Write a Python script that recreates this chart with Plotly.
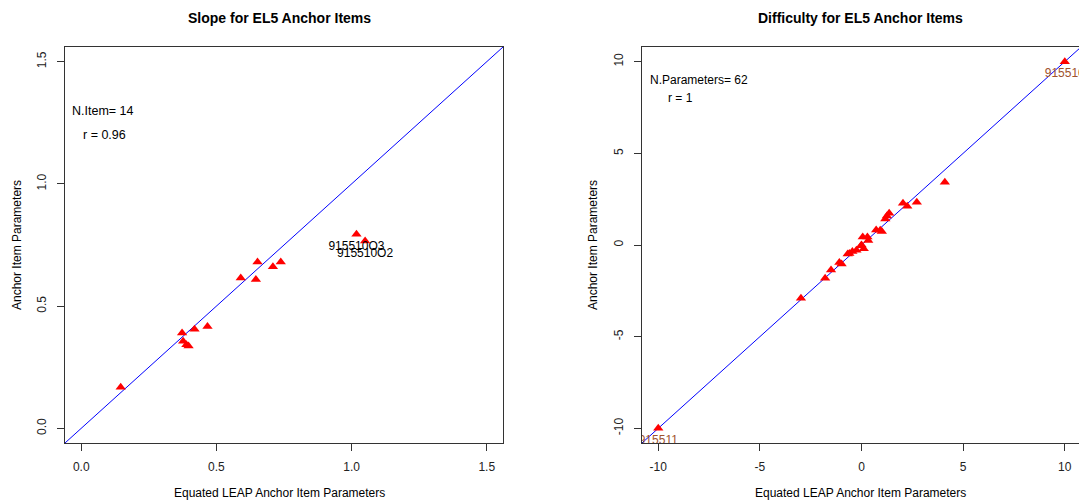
import plotly.graph_objects as go

# ---- data ----
slope_equated = [0.146, 0.373, 0.377, 0.389, 0.397, 0.419, 0.467, 0.590, 0.646, 0.652, 0.709, 0.738, 1.018, 1.050]
slope_anchor = [0.168, 0.390, 0.356, 0.342, 0.337, 0.405, 0.417, 0.615, 0.609, 0.680, 0.661, 0.680, 0.794, 0.766]
slope_labels = ["", "", "", "", "", "", "", "", "", "", "", "", "915510O3", "915510O2"]

diff_equated = [-10.0, -2.98, -1.79, -1.50, -1.09, -0.98, -0.68, -0.60, -0.45, -0.25, 0.0, -0.02, 0.11,
                0.06, 0.29, 0.33, 0.72, 0.92, 1.00, 1.17, 1.25, 1.36, 2.04, 2.25, 2.72, 4.10, 10.0]
diff_anchor = [-10.0, -2.90, -1.82, -1.37, -0.95, -1.04, -0.49, -0.46, -0.35, -0.29, 0.0, -0.04, -0.20,
               0.43, 0.43, 0.24, 0.82, 0.80, 0.73, 1.42, 1.58, 1.73, 2.28, 2.12, 2.33, 3.42, 10.0]
diff_labels = ["915511"] + [""] * 25 + ["915510"]

slope_ticks = [0.0, 0.5, 1.0, 1.5]
slope_ticktext = ["0.0", "0.5", "1.0", "1.5"]
diff_ticks = [-10, -5, 0, 5, 10]
diff_ticktext = ["-10", "-5", "0", "5", "10"]

slope_range = [-0.06, 1.56]
diff_xrange = [-10.8, 10.7]
diff_yrange = [-10.8, 10.8]

FONT = "Liberation Sans, Arial, sans-serif"
W, H = 1079, 502
L1, R1 = 65, 503
L2, R2 = 642, 1079
TOP, BOT = 47, 443

fig = go.Figure()

# left panel
fig.add_trace(go.Scatter(x=[-1, 3], y=[-1, 3], mode="lines", line=dict(color="#0000FF", width=1),
                         xaxis="x", yaxis="y", hoverinfo="skip"))
fig.add_trace(go.Scatter(x=slope_equated, y=slope_anchor, mode="markers+text", text=slope_labels,
                         textposition="bottom center", textfont=dict(family=FONT, size=12, color="#000000"),
                         marker=dict(symbol="triangle-up", color="#FF0000", size=9),
                         xaxis="x", yaxis="y", cliponaxis=True))
# right panel
fig.add_trace(go.Scatter(x=[-20, 20], y=[-20, 20], mode="lines", line=dict(color="#0000FF", width=1),
                         xaxis="x2", yaxis="y2", hoverinfo="skip"))
fig.add_trace(go.Scatter(x=diff_equated, y=diff_anchor, mode="markers+text", text=diff_labels,
                         textposition="bottom center", textfont=dict(family=FONT, size=12, color="#A0522D"),
                         marker=dict(symbol="triangle-up", color="#FF0000", size=9),
                         xaxis="x2", yaxis="y2", cliponaxis=True))

ydom = [1 - BOT / H, 1 - TOP / H]
axis_common = dict(showgrid=False, zeroline=False, ticks="outside", ticklen=7, tickcolor="#333333",
                   tickfont=dict(family=FONT, size=12, color="#222222"), showline=True,
                   linecolor="#333333", linewidth=1)

fig.update_layout(
    width=W, height=H, showlegend=False,
    paper_bgcolor="white", plot_bgcolor="white",
    margin=dict(l=0, r=0, t=0, b=0),
    xaxis=dict(domain=[L1 / W, R1 / W], range=slope_range, tickvals=slope_ticks, ticktext=slope_ticktext,
               mirror=True, anchor="y", ticklabelstandoff=6, **axis_common),
    yaxis=dict(domain=ydom, range=slope_range, tickvals=slope_ticks, ticktext=slope_ticktext,
               mirror=True, anchor="x", tickangle=-90, ticklabelstandoff=6, **axis_common),
    xaxis2=dict(domain=[L2 / W, R2 / W], range=diff_xrange, tickvals=diff_ticks, ticktext=diff_ticktext,
                mirror=True, anchor="y2", ticklabelstandoff=6, **axis_common),
    yaxis2=dict(domain=ydom, range=diff_yrange, tickvals=diff_ticks, ticktext=diff_ticktext,
                mirror=False, anchor="x2", tickangle=-90, ticklabelstandoff=6, **axis_common),
)

ann = []
def pann(x, y, text, size=12, bold=False, angle=0):
    ann.append(dict(x=x / W, y=1 - y / H, xref="paper", yref="paper", text=("<b>%s</b>" % text) if bold else text,
                    showarrow=False, xanchor="center", yanchor="middle", textangle=angle,
                    font=dict(family=FONT, size=size, color="#000000")))

pann(280, 18, "Slope for EL5 Anchor Items", size=14, bold=True)
pann(860, 18, "Difficulty for EL5 Anchor Items", size=14, bold=True)
pann(280, 493, "Equated LEAP Anchor Item Parameters", size=12)
pann(860, 493, "Equated LEAP Anchor Item Parameters", size=12)
pann(17, (TOP + BOT) / 2, "Anchor Item Parameters", size=12, angle=-90)
pann(593, (TOP + BOT) / 2, "Anchor Item Parameters", size=12, angle=-90)

# in-plot statistics text (data coordinates)
ann.append(dict(x=0.08, y=1.3, xref="x", yref="y", text="N.Item= 14", showarrow=False,
                font=dict(family=FONT, size=12.5, color="#000000")))
ann.append(dict(x=0.085, y=1.2, xref="x", yref="y", text="r = 0.96", showarrow=False,
                font=dict(family=FONT, size=12.5, color="#000000")))
ann.append(dict(x=-8.0, y=9.0, xref="x2", yref="y2", text="N.Parameters= 62", showarrow=False,
                font=dict(family=FONT, size=12, color="#000000")))
ann.append(dict(x=-8.9, y=8.0, xref="x2", yref="y2", text="r = 1", showarrow=False,
                font=dict(family=FONT, size=12, color="#000000")))

fig.update_layout(annotations=ann)
fig.write_html("out.html", config={"displayModeBar": False},
               post_script="document.body.style.margin='0';document.body.style.overflow='hidden';")
